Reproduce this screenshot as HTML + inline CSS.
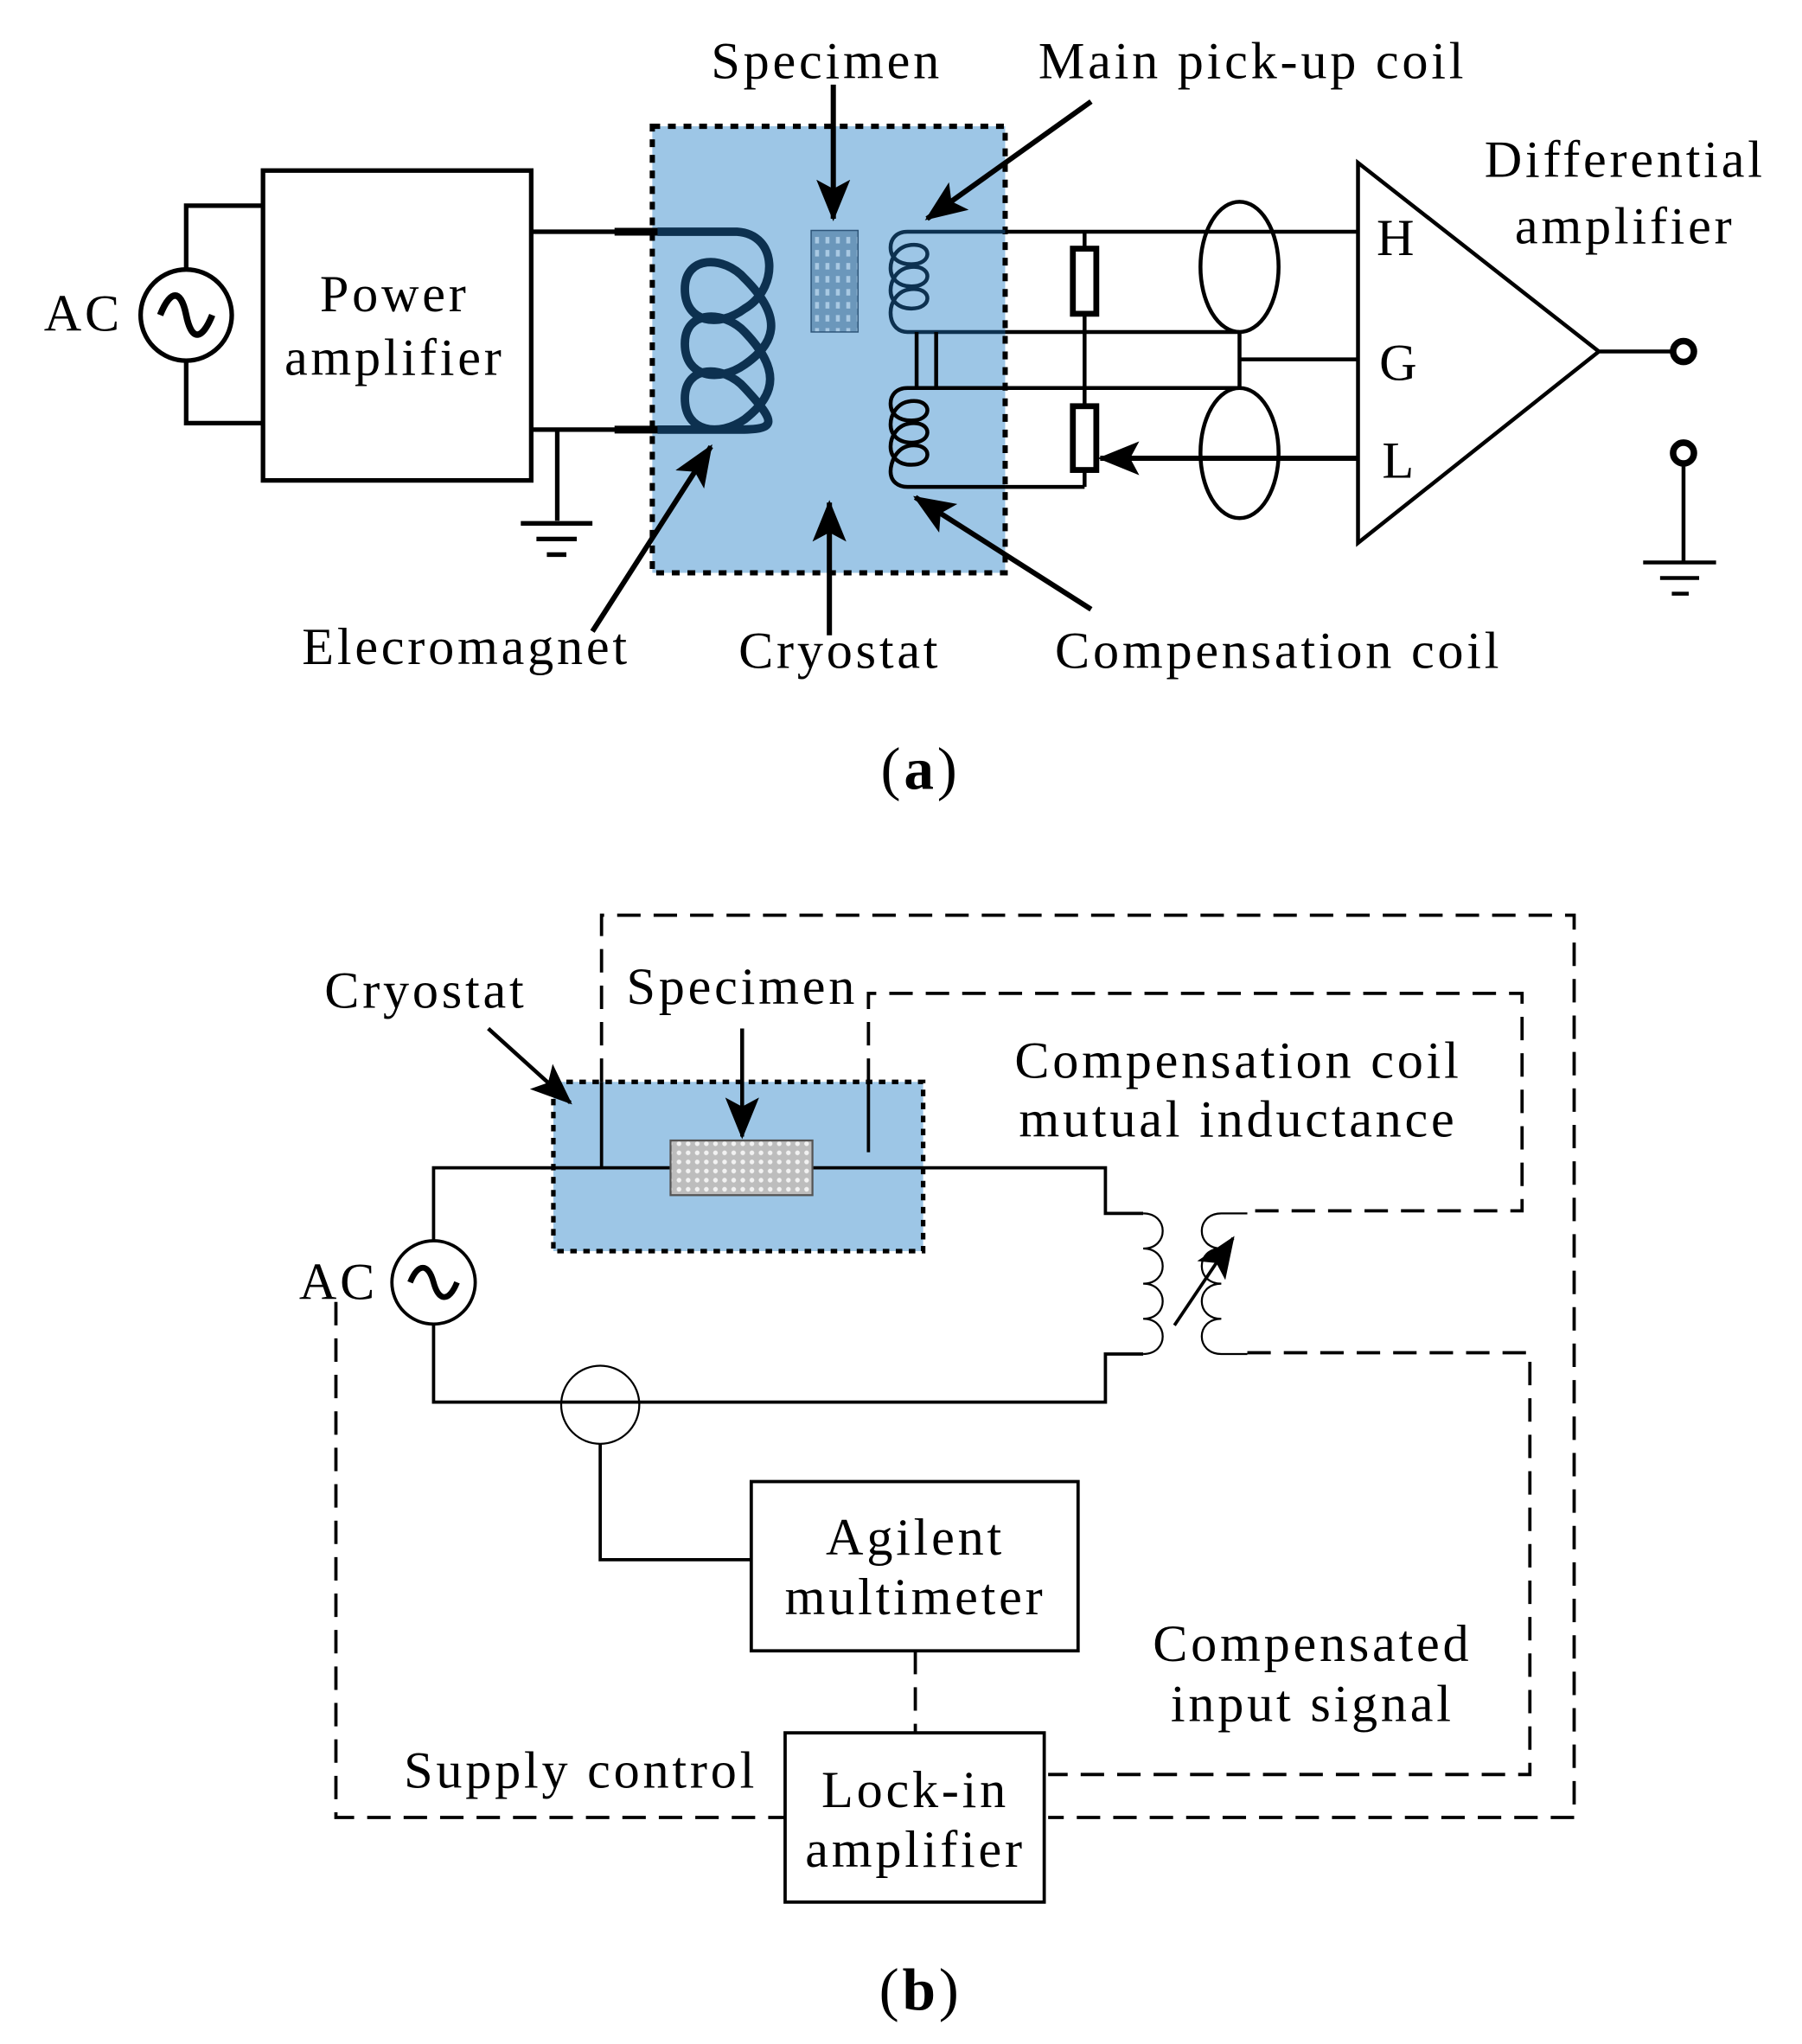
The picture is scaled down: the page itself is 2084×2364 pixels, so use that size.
<!DOCTYPE html>
<html><head><meta charset="utf-8"><style>html,body{margin:0;padding:0;background:#fff}svg{display:block}</style></head>
<body>
<svg width="2084" height="2364" viewBox="0 0 1384 1570" preserveAspectRatio="none" xmlns="http://www.w3.org/2000/svg">
<defs>
<marker id="ah" markerUnits="userSpaceOnUse" markerWidth="34" markerHeight="26" refX="30" refY="13" orient="auto"><path d="M0,0 L32,13 L0,26 L7,13 Z" fill="#000"/></marker>
<pattern id="dots" width="8" height="10" patternUnits="userSpaceOnUse"><rect width="8" height="10" fill="#6b97bb"/><rect x="2" y="2" width="3" height="5" fill="#a9c9e3"/></pattern>
<pattern id="gdots" width="7" height="7" patternUnits="userSpaceOnUse"><rect width="7" height="7" fill="#bdbdbd"/><circle cx="3.5" cy="3.5" r="1.8" fill="#f2f2f2"/></pattern>
</defs>
<g font-family="'Liberation Serif', serif" font-size="40" letter-spacing="2.5" text-anchor="middle" dominant-baseline="central" fill="#000">

<!-- ===== (a) ===== -->
<g stroke="#000" stroke-width="3.5" fill="none">
<circle cx="143" cy="242" r="35"/>
<path d="M143,207 V158 H202 M143,277 V325 H202"/>
<rect x="202" y="131" width="206" height="238"/>
<path d="M408,178 H475 M408,330 H475 M428,330 V400 M400,402 H455 M412,414 H443 M420,426 H435"/>
</g>
<path d="M123,242 C131,222 139,222 143,242 C147,262 155,262 163,242" stroke="#000" stroke-width="5" fill="none"/>
<text x="303" y="226">Power</text>
<text x="303" y="275">amplifier</text>
<text x="64" y="241">AC</text>

<rect x="501" y="97" width="271" height="343" fill="#9dc6e6" stroke="#000" stroke-width="4" stroke-dasharray="6,6"/>
<path d="M472,178 H510 M472,330 H510" stroke="#000" stroke-width="6"/>
<g stroke="#0d3150" stroke-width="6.5" fill="none">
<path d="M505,178 H566 C598,180 598,222 572,237 C552,252 526,248 526,222 C526,196 556,196 572,214 C600,242 598,262 572,280 C552,294 526,290 526,264 C526,238 556,238 572,255 C598,282 598,302 572,322 C552,336 526,332 526,306 C526,280 556,280 572,298 C598,326 596,330 566,330 H505"/>
</g>
<rect x="623" y="177" width="36" height="78" fill="url(#dots)" stroke="#2e5578" stroke-width="1"/>
<g stroke="#0d3150" stroke-width="3" fill="none">
<path d="M772,178 H697 C688,178 684,184 684,190 C684,198 690,203 700,203 C716,203 716,188 702,188 C688,188 684,200 684,206 C684,214 690,220 700,220 C716,220 716,205 702,205 C688,205 684,217 684,223 C684,231 690,237 700,237 C716,237 716,222 702,222 C688,222 684,234 684,240 C684,250 690,255 697,255 H772"/>
</g>
<g stroke="#000" stroke-width="3" fill="none">
<path d="M772,298 H697 C688,298 684,304 684,310 C684,318 690,323 700,323 C716,323 716,308 702,308 C688,308 684,320 684,326 C684,334 690,340 700,340 C716,340 716,325 702,325 C688,325 684,337 684,343 C684,351 690,357 700,357 C716,357 716,342 702,342 C688,342 684,356 684,362 C684,370 690,374 697,374 H772"/>
<path d="M704,255 V298 M719,255 V298"/>
<path d="M772,178 H1043 M772,255 H952 M772,298 H952 M772,374 H833 M833,178 V374 M952,255 V298 M952,276 H1043"/>
<ellipse cx="952" cy="205" rx="30" ry="50"/>
<ellipse cx="952" cy="348" rx="30" ry="50"/>
<path d="M1043,125 V417 L1228,270 Z M1228,270 H1285 M1293,356 V432 M1262,432 H1318 M1275,444 H1305 M1284,456 H1297"/>
<circle cx="1293" cy="270" r="8" stroke-width="5"/>
<circle cx="1293" cy="348" r="8" stroke-width="5"/>
</g>
<rect x="824" y="191" width="18" height="50" fill="#fff" stroke="#000" stroke-width="4.5"/>
<rect x="824" y="312" width="18" height="49" fill="#fff" stroke="#000" stroke-width="4.5"/>
<g stroke="#000" stroke-width="4" fill="none" marker-end="url(#ah)">
<path d="M1043,352 H845"/>
<path d="M640,65 V168"/>
<path d="M838,78 L712,168"/>
<path d="M455,485 L546,343"/>
<path d="M637,488 V386"/>
<path d="M838,468 L703,382"/>
</g>
<text x="1073" y="183">H</text>
<text x="1075" y="279">G</text>
<text x="1075" y="354">L</text>
<text x="1248" y="123">Differential</text>
<text x="1248" y="174">amplifier</text>
<text x="635" y="47">Specimen</text>
<text x="962" y="47">Main pick-up coil</text>
<text x="358" y="497">Elecromagnet</text>
<text x="645" y="500">Cryostat</text>
<text x="982" y="500">Compensation coil</text>
<text x="707" y="590" font-size="46">(<tspan font-weight="bold">a</tspan>)</text>

<!-- ===== (b) ===== -->
<rect x="425" y="831" width="284" height="130" fill="#9dc6e6" stroke="#000" stroke-width="3.5" stroke-dasharray="5,5"/>
<g stroke="#000" stroke-width="2.5" fill="none">
<path d="M515,897 H333 V953 M333,1017 V1077 H849 V1040 H878 M624,897 H849 V932 H878"/>
<circle cx="333" cy="985" r="32"/>
<path d="M462,897 V831 M667,885 V831"/>
<circle cx="461" cy="1079" r="30" stroke-width="1.5"/>
<path d="M461,1109 V1198 H577"/>
<rect x="577" y="1138" width="251" height="130"/>
<rect x="603" y="1331" width="199" height="130"/>
</g>
<path d="M315,985 C321,970 329,970 333,985 C337,1000 345,1000 351,985" stroke="#000" stroke-width="4.5" fill="none"/>
<g stroke="#000" stroke-width="1.5" fill="none">
<path d="M878,932 C898,932 898,959 878,959 C898,959 898,986 878,986 C898,986 898,1013 878,1013 C898,1013 898,1040 878,1040"/>
<path d="M958,932 H938 C918,932 918,959 938,959 C918,959 918,986 938,986 C918,986 918,1013 938,1013 C918,1013 918,1040 938,1040 H958"/>
</g>
<rect x="515" y="876" width="109" height="42" fill="url(#gdots)" stroke="#555" stroke-width="1.5"/>
<g stroke="#000" stroke-width="2.5" fill="none" stroke-dasharray="18,10">
<path d="M462,831 V703 H1209 V1396 H805"/>
<path d="M667,831 V763 H1169 V930 H958"/>
<path d="M958,1039 H1175 V1363 H805"/>
<path d="M258,1000 V1396 H603"/>
<path d="M703,1268 V1331"/>
</g>
<g stroke="#000" stroke-width="3" fill="none" marker-end="url(#ah)">
<path d="M375,790 L438,847"/>
<path d="M570,790 V873"/>
<path d="M902,1018 L947,951" stroke-width="2.5"/>
</g>
<text x="327" y="761">Cryostat</text>
<text x="570" y="758">Specimen</text>
<text x="951" y="815">Compensation coil</text>
<text x="951" y="860">mutual inductance</text>
<text x="260" y="985">AC</text>
<text x="703" y="1181">Agilent</text>
<text x="703" y="1227">multimeter</text>
<text x="703" y="1375">Lock-in</text>
<text x="703" y="1421">amplifier</text>
<text x="1008" y="1263">Compensated</text>
<text x="1008" y="1309">input signal</text>
<text x="446" y="1360">Supply control</text>
<text x="707" y="1528" font-size="46">(<tspan font-weight="bold">b</tspan>)</text>
</g>
</svg>
</body></html>
